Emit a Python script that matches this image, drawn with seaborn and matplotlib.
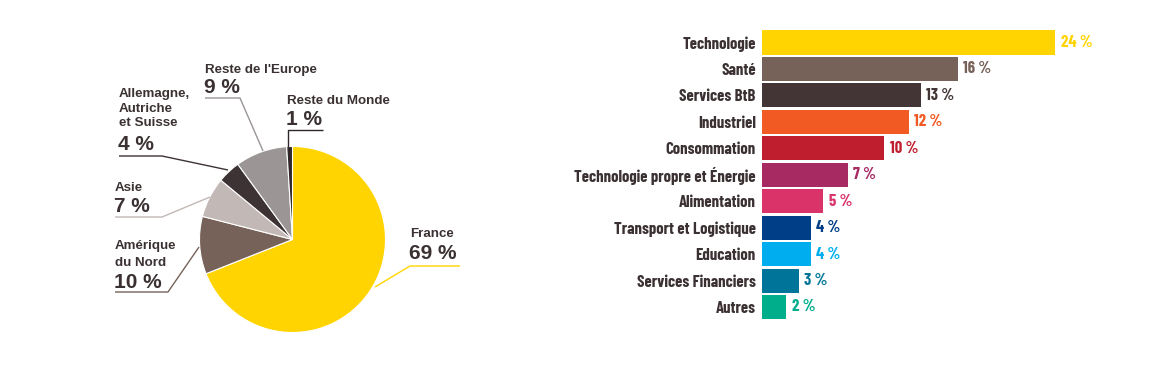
import matplotlib
matplotlib.use("Agg")
import matplotlib.pyplot as plt
import seaborn as sns
import pandas as pd

# ---------------- data ----------------
regions = ["France", "Amérique du Nord", "Asie", "Allemagne, Autriche et Suisse",
           "Reste de l'Europe", "Reste du Monde"]
region_lines = [["France"], ["Amérique", "du Nord"], ["Asie"],
                ["Allemagne,", "Autriche", "et Suisse"], ["Reste de l'Europe"], ["Reste du Monde"]]
region_pct = [69, 10, 7, 4, 9, 1]
region_colors = ["#FFD400", "#766259", "#C2B8B5", "#3E3334", "#9B9595", "#2E2627"]

sectors = ["Technologie", "Santé", "Services BtB", "Industriel", "Consommation",
           "Technologie propre et Énergie", "Alimentation", "Transport et Logistique",
           "Education", "Services Financiers", "Autres"]
sector_pct = [24, 16, 13, 12, 10, 7, 5, 4, 4, 3, 2]
sector_colors = ["#FFD400", "#766259", "#433536", "#F15A22", "#BE1E2D", "#A72A63",
                 "#D9336A", "#003F87", "#00AEEF", "#007599", "#00AE8C"]

TEXT = "#3B3132"
W, H = 1161, 371

sns.set_theme(style="white")
plt.rcParams['font.family'] = ['Liberation Sans', 'DejaVu Sans']
NARROW = ['Barlow Condensed', 'DejaVu Sans']

fig = plt.figure(figsize=(W / 100, H / 100), dpi=100)

# ---------------- pie ----------------
axp = fig.add_axes([0, 0, 0.5, 1])


def P(x, y):
    return x, H - y


cx, cy = P(292.5, 239.5)
axp.pie(region_pct, colors=region_colors, startangle=90, counterclock=False,
        center=(cx, cy), radius=93,
        wedgeprops=dict(edgecolor="white", linewidth=0.8))
axp.set_xlim(0, W * 0.5)
axp.set_ylim(0, H)
axp.set_aspect("equal")
axp.axis("off")

# label layout: text x, first-line baseline, line step, pct baseline, leader polyline
layout = [
    (410, 237, 0, 259, [(460, 266), (410, 266), (375, 287)]),
    (115, 249, 17, 288, [(115, 292), (168, 292), (199, 247)]),
    (115, 191, 0, 212, [(115, 217), (162, 217), (210, 197)]),
    (119, 97, 14.5, 150, [(119, 156), (162, 156), (228, 170)]),
    (205, 73, 0, 93, [(205, 98), (240, 98), (263, 151)]),
    (287, 104, 0, 125, [(323, 130), (288, 130), (288, 147)]),
]
for lines, pct, col, (tx, by, step, pby, poly) in zip(region_lines, region_pct,
                                                      region_colors, layout):
    for k, ln in enumerate(lines):
        axp.text(*P(tx, by + k * step), ln, ha="left", va="baseline",
                 fontsize=9.6, fontweight="bold", color=TEXT)
    axp.text(*P(tx - 1, pby), f"{pct} %", ha="left", va="baseline",
             fontsize=15, fontweight="bold", color=TEXT)
    xs = [p[0] for p in poly]
    ys = [H - p[1] for p in poly]
    axp.plot(xs, ys, color=col, lw=1.0, solid_capstyle="butt")

# ---------------- bars ----------------
px_per_pct = 12.22
left_px, top_px, step_px = 762, 42.5 - 13.225, 26.45
n = len(sectors)
axb = fig.add_axes([left_px / W, (H - (top_px + n * step_px)) / H,
                    (W - left_px) / W, n * step_px / H])
df = pd.DataFrame({"sector": sectors, "pct": sector_pct})
sns.barplot(data=df, x="pct", y="sector", hue="sector", palette=sector_colors,
            dodge=False, width=0.91, saturation=1, legend=False, ax=axb,
            linewidth=0)
axb.set_xlim(0, (W - left_px) / px_per_pct)
axb.set_ylim(n - 0.5, -0.5)
axb.set_xlabel("")
axb.set_ylabel("")
axb.set_xticks([])
axb.set_yticks(range(n))
axb.set_yticklabels(sectors, fontfamily=NARROW, fontweight=700, fontsize=12,
                    color=TEXT)
axb.tick_params(axis="y", length=0, pad=4.5)
for s in axb.spines.values():
    s.set_visible(False)
for i, (v, c) in enumerate(zip(sector_pct, sector_colors)):
    axb.text(v + 0.45, i, f"{v} %", ha="left", va="center", color=c,
             fontfamily=NARROW, fontweight=700, fontsize=12)

fig.savefig("out.png", dpi=100, facecolor="white")
